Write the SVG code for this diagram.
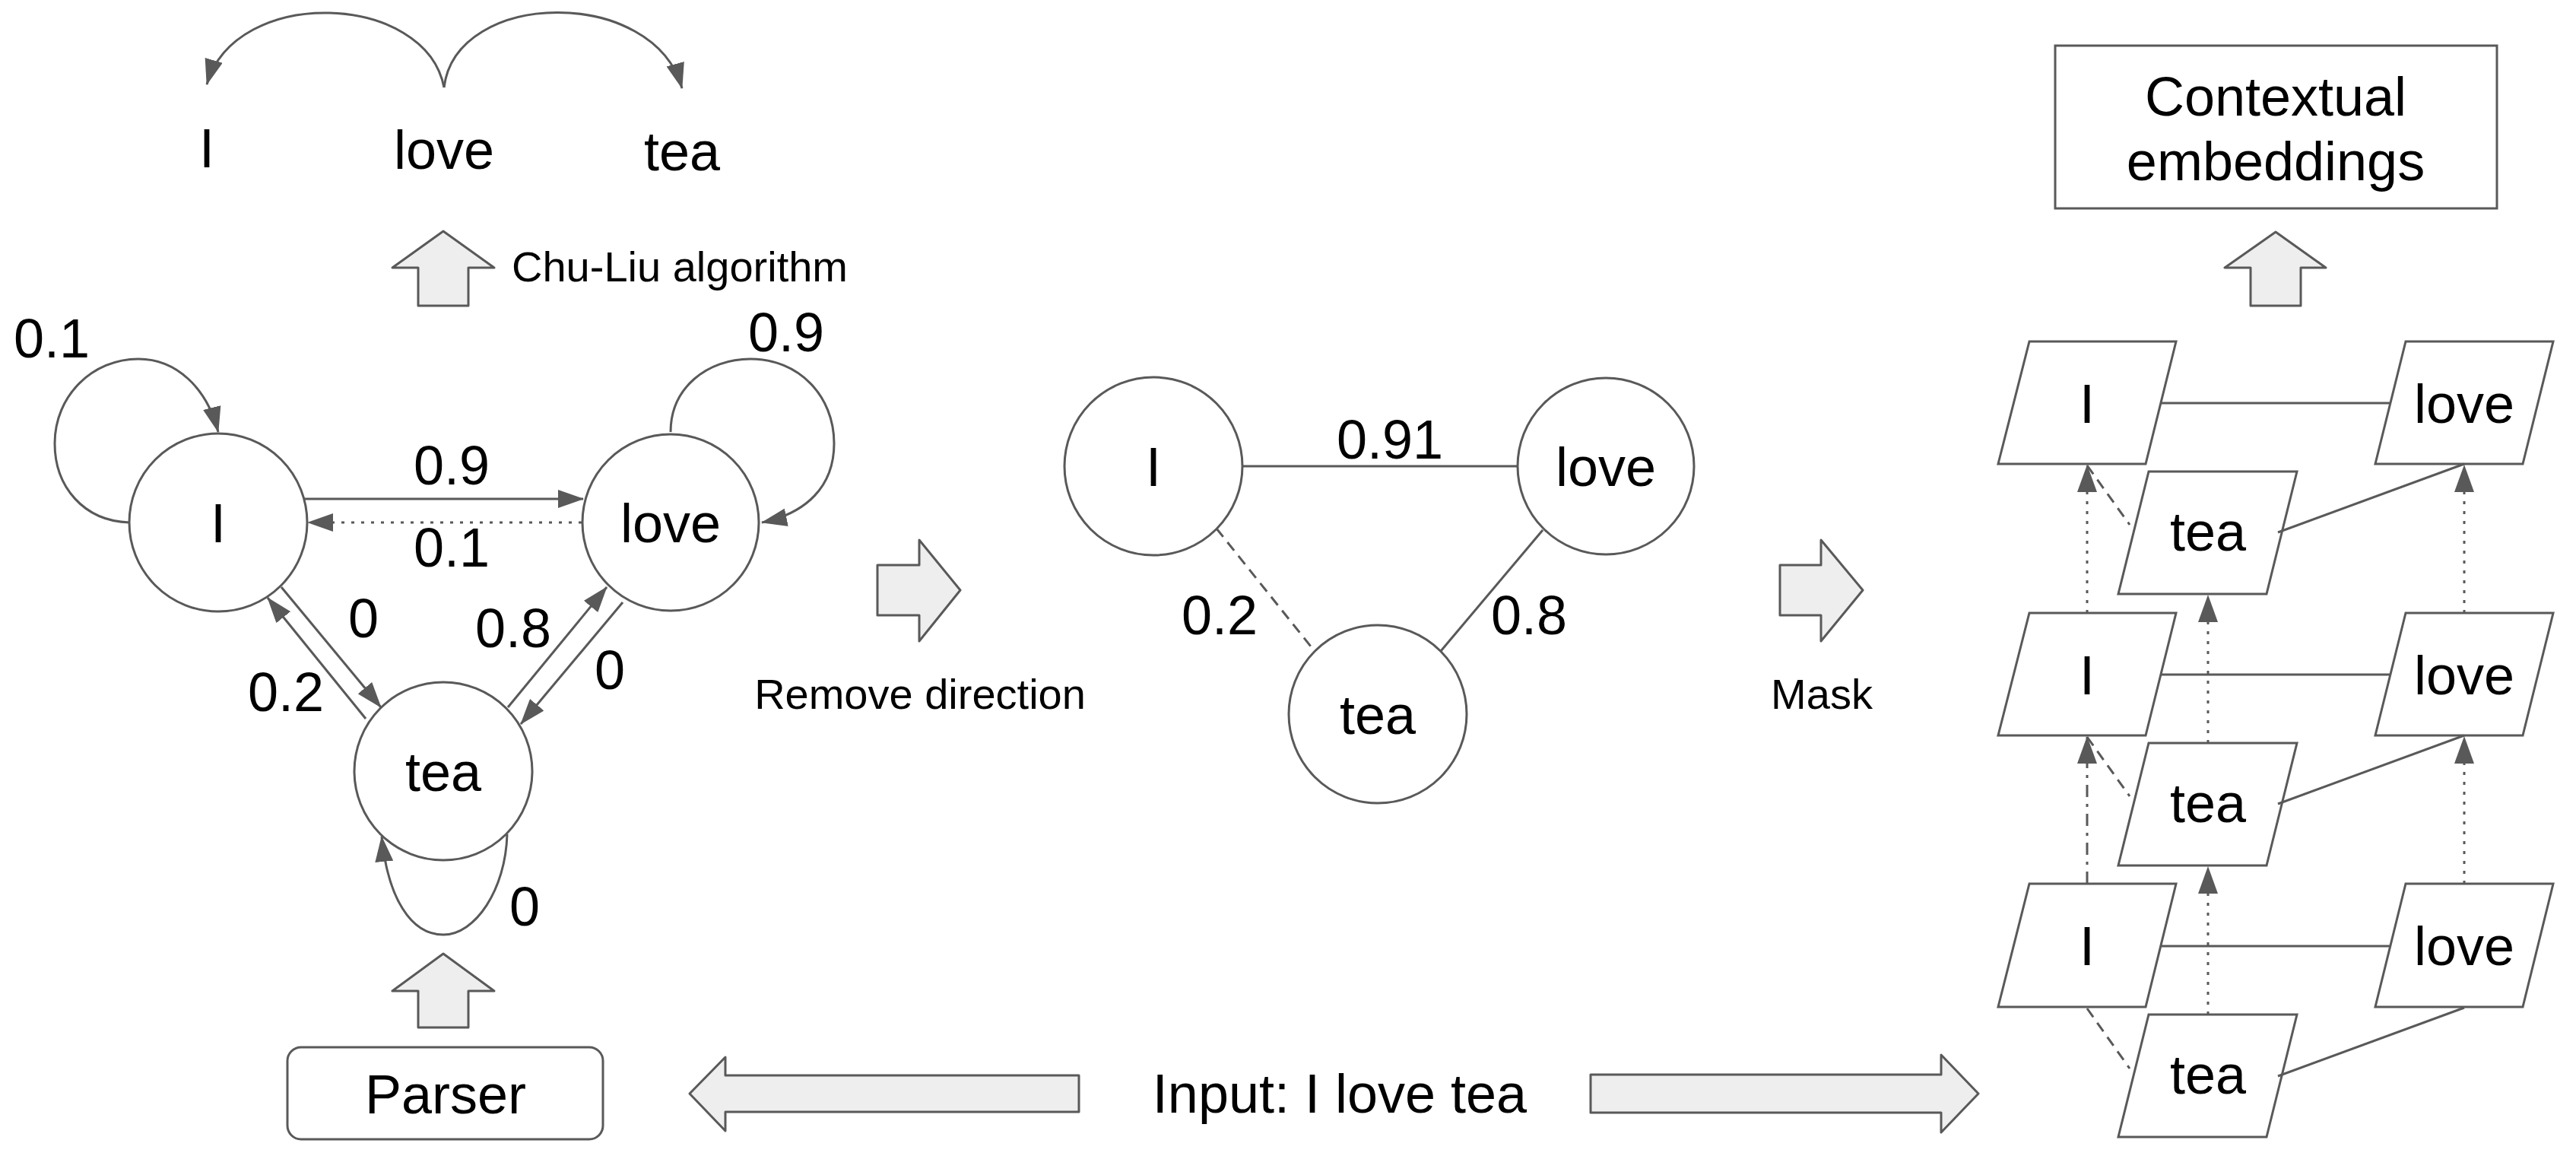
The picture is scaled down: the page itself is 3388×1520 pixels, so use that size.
<svg xmlns="http://www.w3.org/2000/svg" width="3388" height="1520" viewBox="0 0 3388 1520">
<style>
text{font-family:"Liberation Sans",Arial,sans-serif;fill:#000;text-anchor:middle}
.t72{font-size:72px}
.t56{font-size:56px}
.node{fill:#fff;stroke:#595959;stroke-width:3}
.edge{fill:none;stroke:#595959;stroke-width:3}
.dot{stroke-dasharray:4 9}
.dash{stroke-dasharray:14 9}
.dashdot{stroke-dasharray:16 9 4 9}
.block{fill:#eeeeee;stroke:#595959;stroke-width:3;stroke-linejoin:round}
</style>
<defs>
<marker id="ah" markerUnits="userSpaceOnUse" markerWidth="34" markerHeight="24" viewBox="0 0 34 24" refX="33" refY="12" orient="auto">
<path d="M0,0 L34,12 L0,24 z" fill="#595959"/>
</marker>
<marker id="ah2" markerUnits="userSpaceOnUse" markerWidth="36" markerHeight="26" viewBox="0 0 36 26" refX="35" refY="13" orient="auto">
<path d="M0,0 L36,13 L0,26 z" fill="#595959"/>
</marker>
</defs>
<rect width="3388" height="1520" fill="#fff"/>

<!-- top result -->
<g id="tree-words">
<text class="t72" x="272" y="220">I</text>
<text class="t72" x="584" y="222">love</text>
<text class="t72" x="897" y="224">tea</text>
</g>

<!-- left graph nodes -->
<g id="g1-I"><circle class="node" cx="287" cy="687" r="117"/><text class="t72" x="287" y="713">I</text></g>
<g id="g1-love"><circle class="node" cx="882" cy="687" r="116"/><text class="t72" x="882" y="713">love</text></g>
<g id="g1-tea"><circle class="node" cx="583" cy="1014" r="117"/><text class="t72" x="583" y="1040">tea</text></g>

<!-- middle graph nodes -->
<g id="g2-I"><circle class="node" cx="1517" cy="613" r="117"/><text class="t72" x="1517" y="639">I</text></g>
<g id="g2-love"><circle class="node" cx="2112" cy="613" r="116"/><text class="t72" x="2112" y="639">love</text></g>
<g id="g2-tea"><circle class="node" cx="1812" cy="939" r="117"/><text class="t72" x="1812" y="965">tea</text></g>

<!-- parser -->
<g id="parser"><rect class="node" x="378" y="1377" width="415" height="121" rx="18"/><text class="t72" x="586" y="1464">Parser</text></g>

<!-- input -->
<g id="input"><text class="t72" x="1762" y="1463">Input: I love tea</text></g>

<!-- contextual embeddings -->
<g id="ctx"><rect class="node" x="2703" y="60" width="581" height="214"/>
<text class="t72" x="2993" y="152">Contextual</text>
<text class="t72" x="2993" y="237">embeddings</text></g>

<!-- right stacked layers -->
<g id="L3-I"><polygon class="node" points="2669,449 2862,449 2822,610 2628,610"/><text class="t72" x="2745" y="556">I</text></g>
<g id="L3-love"><polygon class="node" points="3164,449 3358,449 3318,610 3124,610"/><text class="t72" x="3241" y="556">love</text></g>
<g id="L3-tea"><polygon class="node" points="2826,620 3021,620 2981,781 2786,781"/><text class="t72" x="2904" y="724">tea</text></g>
<g id="L2-I"><polygon class="node" points="2669,806 2862,806 2822,967 2628,967"/><text class="t72" x="2745" y="913">I</text></g>
<g id="L2-love"><polygon class="node" points="3164,806 3358,806 3318,967 3124,967"/><text class="t72" x="3241" y="913">love</text></g>
<g id="L2-tea"><polygon class="node" points="2826,977 3021,977 2981,1138 2786,1138"/><text class="t72" x="2904" y="1081">tea</text></g>
<g id="L1-I"><polygon class="node" points="2669,1162 2862,1162 2822,1324 2628,1324"/><text class="t72" x="2745" y="1269">I</text></g>
<g id="L1-love"><polygon class="node" points="3164,1162 3358,1162 3318,1324 3124,1324"/><text class="t72" x="3241" y="1269">love</text></g>
<g id="L1-tea"><polygon class="node" points="2826,1334 3021,1334 2981,1495 2786,1495"/><text class="t72" x="2904" y="1438">tea</text></g>

<!-- block arrows and step labels -->
<g id="steps">
<polygon class="block" points="550,402 616,402 616,352 650,352 583,304 516,352 550,352"/>
<text class="t56" x="673" y="370" style="text-anchor:start">Chu-Liu algorithm</text>
<polygon class="block" points="550,1351 616,1351 616,1303 650,1303 583,1254 516,1303 550,1303"/>
<polygon class="block" points="1154,743 1209,743 1209,710 1263,776 1209,843 1209,809 1154,809"/>
<text class="t56" x="1210" y="932">Remove direction</text>
<polygon class="block" points="2341,743 2395,743 2395,710 2450,776 2395,843 2395,809 2341,809"/>
<text class="t56" x="2396" y="932">Mask</text>
<polygon class="block" points="2960,402 3026,402 3026,352 3059,352 2993,305 2926,352 2960,352"/>
<polygon class="block" points="1419,1414 954,1414 954,1390 907,1438 954,1487 954,1462 1419,1462"/>
<polygon class="block" points="2092,1413 2553,1413 2553,1387 2602,1438 2553,1489 2553,1463 2092,1463"/>
</g>

<g id="connectors">
<!-- tree arcs -->
<path class="edge" d="M584,115 C560,-10 310,-20 272,111" marker-end="url(#ah)"/>
<path class="edge" d="M584,115 C600,-15 860,-18 897,116" marker-end="url(#ah)"/>
<!-- left graph -->
<path class="edge" d="M170,687 C110,685 72,640 72,583 C72,520 122,472 182,472 C232,472 272,510 287,568" marker-end="url(#ah)"/>
<path class="edge" d="M882,568 C882,510 930,472 987,472 C1050,472 1097,520 1097,583 C1097,640 1060,675 1002,687" marker-end="url(#ah)"/>
<path class="edge" d="M667,1097 C665,1170 625,1229 583,1229 C540,1229 510,1180 502,1100" marker-end="url(#ah)"/>
<line class="edge" x1="401" y1="656" x2="767" y2="656" marker-end="url(#ah)"/>
<line class="edge dot" x1="765" y1="687" x2="405" y2="687" marker-end="url(#ah)"/>
<line class="edge" x1="370" y1="772" x2="501" y2="930" marker-end="url(#ah)"/>
<line class="edge" x1="481" y1="945" x2="352" y2="786" marker-end="url(#ah)"/>
<line class="edge" x1="668" y1="930" x2="798" y2="772" marker-end="url(#ah)"/>
<line class="edge" x1="819" y1="792" x2="685" y2="952" marker-end="url(#ah)"/>
<text class="t72" x="594" y="637">0.9</text>
<text class="t72" x="594" y="745">0.1</text>
<text class="t72" x="478" y="838">0</text>
<text class="t72" x="376" y="935">0.2</text>
<text class="t72" x="675" y="851">0.8</text>
<text class="t72" x="802" y="906">0</text>
<text class="t72" x="68" y="470">0.1</text>
<text class="t72" x="1034" y="462">0.9</text>
<text class="t72" x="690" y="1217">0</text>
<!-- middle graph -->
<line class="edge" x1="1634" y1="613" x2="1996" y2="613"/>
<line class="edge dash" x1="1600" y1="695" x2="1728" y2="855"/>
<line class="edge" x1="2029" y1="697" x2="1895" y2="856"/>
<text class="t72" x="1828" y="603">0.91</text>
<text class="t72" x="1604" y="834">0.2</text>
<text class="t72" x="2011" y="834">0.8</text>
<!-- right layers: intra-layer -->
<line class="edge" x1="2843" y1="530" x2="3143" y2="530"/>
<line class="edge" x1="2996" y1="700" x2="3241" y2="610"/>
<line class="edge dash" x1="2745" y1="612" x2="2801" y2="690"/>
<line class="edge" x1="2843" y1="887" x2="3143" y2="887"/>
<line class="edge" x1="2996" y1="1057" x2="3241" y2="967"/>
<line class="edge dash" x1="2745" y1="969" x2="2801" y2="1047"/>
<line class="edge" x1="2843" y1="1244" x2="3143" y2="1244"/>
<line class="edge" x1="2996" y1="1415" x2="3241" y2="1325"/>
<line class="edge dash" x1="2745" y1="1326" x2="2801" y2="1405"/>
<!-- right layers: inter-layer -->
<line class="edge dot" x1="2745" y1="806" x2="2745" y2="612" marker-end="url(#ah2)"/>
<line class="edge dot" x1="2904" y1="977" x2="2904" y2="783" marker-end="url(#ah2)"/>
<line class="edge dot" x1="3241" y1="806" x2="3241" y2="612" marker-end="url(#ah2)"/>
<line class="edge dashdot" x1="2745" y1="1162" x2="2745" y2="969" marker-end="url(#ah2)"/>
<line class="edge dot" x1="2904" y1="1334" x2="2904" y2="1140" marker-end="url(#ah2)"/>
<line class="edge dot" x1="3241" y1="1162" x2="3241" y2="969" marker-end="url(#ah2)"/>
</g>
</svg>
